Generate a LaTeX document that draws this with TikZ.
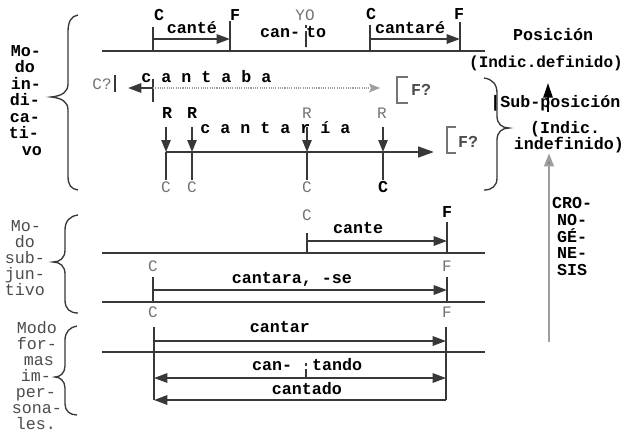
\documentclass[tikz,border=0pt]{standalone}
\usepackage{fontspec}
\setmonofont{Liberation Mono}
\usetikzlibrary{arrows.meta}

\definecolor{ink}{rgb}{0.22,0.22,0.22}
\definecolor{soft}{rgb}{0.45,0.45,0.45}
\definecolor{faint}{rgb}{0.62,0.62,0.62}
\definecolor{mid}{rgb}{0.30,0.30,0.30}

\begin{document}
\begin{tikzpicture}[x=0.75pt,y=-0.75pt,
  txt/.style={inner sep=0pt, font=\ttfamily\bfseries\fontsize{12.5}{14}\selectfont, text=black},
  lbl/.style={txt, anchor=base},
  glbl/.style={lbl, font=\ttfamily\fontsize{12}{14}\selectfont, text=soft},
  rlbl/.style={lbl, font=\ttfamily\fontsize{12.5}{14}\selectfont, text=mid},
  axis/.style={draw=ink, line width=2.2pt},
  arr/.style={draw=ink, line width=1.5pt, -{Triangle[length=10pt,width=7pt]}},
  darr/.style={draw=ink, line width=1.5pt, {Triangle[length=10pt,width=7pt]}-{Triangle[length=10pt,width=7pt]}},
  rarr/.style={draw=ink, line width=1.1pt, -{Triangle[length=9pt,width=7pt]}},
  tick/.style={draw=ink, line width=1.1pt},
  cut/.style={draw=ink, line width=0.9pt, dash pattern=on 2pt off 2.5pt on 12pt off 0pt},
  brace/.style={draw=ink, line width=1pt},
  bracket/.style={draw=soft, line width=1.2pt},
]
\fill[white] (0,0) rectangle (624,433);
\useasboundingbox (0,0) rectangle (624,433);

% ===== Modo indicativo: posicion =====
\coordinate (p0) at (102,51); \coordinate (p1) at (485,51);
\draw[axis] (p0) -- (p1);
% cante (preterito)
\coordinate (a1t) at (153,27); \coordinate (a1b) at (153,51);
\coordinate (a2t) at (230,21); \coordinate (a2b) at (230,51);
\draw[tick] (a1t) -- (a1b); \draw[tick] (a2t) -- (a2b);
\coordinate (a1) at (153,39); \coordinate (a2) at (230,39);
\draw[arr] (a1) -- (a2);
\node[lbl] (aC) at (159,20) {C};
\node[lbl] (aF) at (235,20) {F};
\node[lbl] (aw) at (192,33) {canté};
% canto (presente)
\node[glbl] (yo) at (305,20) {YO};
\coordinate (y0) at (306,25); \coordinate (y1) at (306,47);
\draw[cut] (y0) -- (y1);
\node[lbl] (bw1) at (280,37) {can-};
\node[lbl] (bw2) at (316,37) {to};
% cantare (futuro)
\coordinate (c1t) at (370,25); \coordinate (c1b) at (370,51);
\coordinate (c2t) at (460,22); \coordinate (c2b) at (460,51);
\draw[tick] (c1t) -- (c1b); \draw[tick] (c2t) -- (c2b);
\coordinate (c1) at (370,39); \coordinate (c2) at (460,39);
\draw[arr] (c1) -- (c2);
\node[lbl] (cC) at (371,19) {C};
\node[lbl] (cF) at (459,19) {F};
\node[lbl] (cw) at (410,33) {cantaré};

\node[lbl] (pos) at (553,40) {Posición};
\node[lbl, font=\ttfamily\bfseries\fontsize{12}{14}\selectfont] (idef) at (546,67) {(Indic.definido)};

% ===== cantaba =====
\node[glbl] (cq) at (102,89) {C?};
\coordinate (q0) at (115,75); \coordinate (q1) at (115,92);
\draw[tick] (q0) -- (q1);
\coordinate (d0) at (153,88); \coordinate (d1) at (128,88);
\draw[arr] (d0) -- (d1);
\coordinate (d2t) at (153,79); \coordinate (d2b) at (153,102);
\draw[tick] (d2t) -- (d2b);
\node[lbl, anchor=base west] (dw) at (141,82) {c a n t a b a};
\coordinate (d3) at (380,88);
\draw[faint, line width=1pt, dash pattern=on 0.8pt off 0.9pt] (d0) -- (372,88);
\fill[faint] (d3) -- (369,83.5) -- (371,88) -- (369,92.5) -- cycle;
\draw[bracket] (408,77) -- (397,77) -- (397,103) -- (408,103);
\node[lbl, text=mid] (dF) at (421,95) {F?};

% ===== cantaria =====
\coordinate (r0) at (166,152); \coordinate (r1) at (434,152);
\draw[draw=ink, line width=2pt, -{Triangle[length=12pt,width=8pt]}] (r0) -- (r1);
\foreach \x/\i in {166/1,192/2,307/3,383/4}{
  \coordinate (rt\i) at (\x,127);
  \coordinate (rm\i) at (\x,152);
  \coordinate (rb\i) at (\x,180);
  \draw[rarr] (rt\i) -- (rm\i);
  \draw[tick] (rm\i) -- (rb\i);
}
\node[lbl] (rR1) at (167,118) {R};
\node[lbl] (rR2) at (192,118) {R};
\node[glbl] (rR3) at (307,118) {R};
\node[glbl] (rR4) at (382,118) {R};
\node[glbl] (rC1) at (166,192) {C};
\node[glbl] (rC2) at (192,192) {C};
\node[glbl] (rC3) at (307,192) {C};
\node[lbl] (rC4) at (383,192) {C};
\node[lbl, anchor=base west] (rw) at (200,133) {c a n t a r í a};
\draw[bracket] (456,127) -- (447,127) -- (447,153) -- (456,153);
\node[lbl, text=mid] (rF) at (468,147) {F?};

% ===== sub-posicion =====
\draw[brace] (484,78) .. controls (492,79) and (497,84) .. (497,93) -- (497,116)
  .. controls (497,124) and (502,128) .. (509,128)
  .. controls (502,128) and (497,132) .. (497,140) -- (497,178)
  .. controls (497,186) and (492,190) .. (484,190);
\coordinate (s0) at (548,112); \coordinate (s1) at (548,83);
\draw[black, line width=1.3pt, -{Triangle[length=11pt,width=7pt]}] (s0) -- (s1);
\node[lbl, anchor=base west] (sub) at (490,107) {|Sub-posición};
\node[lbl] (ind1) at (565,133) {(Indic.};
\node[lbl] (ind2) at (569,149) {indefinido)};

% ===== cronogenesis =====
\coordinate (g0) at (549,342); \coordinate (g1) at (549,153);
\draw[draw=faint, line width=2pt, -{Triangle[length=10pt,width=7pt, fill=soft]}] (g0) -- (g1);
\foreach \t/\y [count=\i] in {CRO-/208,NO-/225,GÉ-/242,NE-/258,SIS/275}
  \node[lbl] (cr\i) at (572,\y) {\t};

% ===== Modo subjuntivo =====
\coordinate (u0) at (102,253); \coordinate (u1) at (485,253);
\draw[axis] (u0) -- (u1);
\coordinate (e1t) at (307,233); \coordinate (e1b) at (307,253);
\coordinate (e2t) at (447,222); \coordinate (e2b) at (447,253);
\draw[tick] (e1t) -- (e1b); \draw[tick] (e2t) -- (e2b);
\coordinate (e1) at (307,241); \coordinate (e2) at (447,241);
\draw[arr] (e1) -- (e2);
\node[glbl] (eC) at (307,220) {C};
\node[lbl] (eF) at (447,217) {F};
\node[lbl] (ew) at (358,233) {cante};

\coordinate (v0) at (102,302); \coordinate (v1) at (485,302);
\draw[axis] (v0) -- (v1);
\coordinate (f1t) at (153,277); \coordinate (f1b) at (153,302);
\coordinate (f2t) at (447,277); \coordinate (f2b) at (447,302);
\draw[tick] (f1t) -- (f1b); \draw[tick] (f2t) -- (f2b);
\coordinate (f1) at (153,290); \coordinate (f2) at (447,290);
\draw[arr] (f1) -- (f2);
\node[glbl] (fC) at (153,271) {C};
\node[glbl] (fF) at (447,271) {F};
\node[lbl] (fw) at (292,283) {cantara, -se};

% ===== Modo formas impersonales =====
\node[glbl] (hC) at (153,317) {C};
\node[glbl] (hF) at (447,317) {F};
\coordinate (h1t) at (154,327); \coordinate (h1b) at (154,400);
\coordinate (h2t) at (446,327); \coordinate (h2b) at (446,400);
\draw[tick] (h1t) -- (h1b); \draw[tick] (h2t) -- (h2b);
\coordinate (i1) at (154,341); \coordinate (i2) at (446,341);
\draw[arr] (i1) -- (i2);
\node[lbl] (iw) at (280,332) {cantar};
\coordinate (w0) at (102,352); \coordinate (w1) at (485,352);
\draw[axis] (w0) -- (w1);
\coordinate (j1) at (154,378); \coordinate (j2) at (446,378);
\draw[darr] (j1) -- (j2);
\coordinate (jt) at (306,363); \coordinate (jb) at (306,378);
\draw[cut] (jt) -- (jb);
\node[lbl] (jw1) at (272,370) {can-};
\node[lbl] (jw2) at (337,370) {tando};
\coordinate (k2) at (154,400);
\draw[arr] (h2b) -- (k2);
\node[lbl] (kw) at (307,394) {cantado};

% ===== left braces and mode names =====
\draw[brace] (78,15) .. controls (71,16) and (68,22) .. (68,32) -- (68,84)
  .. controls (68,92) and (62,96) .. (51,97)
  .. controls (62,98) and (68,102) .. (68,110) -- (68,176)
  .. controls (68,185) and (71,189) .. (78,190);
\foreach \t/\x/\y [count=\i] in {Mo-/26/56,do/25/72.5,in-/26/89,di-/25/105.5,ca-/25/122,ti-/24/138.5,vo/32/155}
  \node[lbl] (mi\i) at (\x,\y) {\t};

\draw[brace] (78,215) .. controls (70,216) and (65,221) .. (65,230) -- (65,250)
  .. controls (65,258) and (60,262) .. (53,262)
  .. controls (60,262) and (65,266) .. (65,274) -- (65,300)
  .. controls (65,309) and (70,313) .. (78,313);
\foreach \t/\x/\y [count=\i] in {Mo-/26/231,do/25/247,sub-/25/263,jun-/25/279,tivo/25/295}
  \node[rlbl] (ms\i) at (\x,\y) {\t};

\draw[brace] (77,326) .. controls (70,327) and (65,332) .. (65,340) -- (65,366)
  .. controls (65,373) and (60,377) .. (55,377)
  .. controls (60,377) and (65,381) .. (65,388) -- (65,404)
  .. controls (65,411) and (70,415) .. (77,415);
\foreach \t/\x/\y [count=\i] in {Modo/37/333,for-/37/349,mas/39/365,im-/36/381,per-/36/397,sona-/37/413,les./36/429}
  \node[rlbl] (mf\i) at (\x,\y) {\t};
\end{tikzpicture}
\end{document}
